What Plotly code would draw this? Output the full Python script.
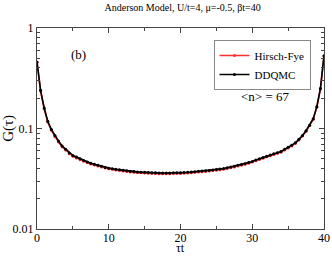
import plotly.graph_objects as go

tau = [i * 0.5 for i in range(81)]

g_ddqmc = [0.46, 0.24, 0.16, 0.118, 0.098, 0.085, 0.075, 0.067, 0.062, 0.057,
           0.054, 0.052, 0.050, 0.048, 0.0465, 0.045, 0.044, 0.043, 0.042, 0.041,
           0.0403, 0.0398, 0.0393, 0.0388, 0.0384, 0.0380, 0.0376, 0.0373, 0.0370, 0.0368,
           0.0366, 0.0364, 0.0363, 0.0362, 0.0361, 0.0361, 0.0361, 0.0361, 0.0362, 0.0362,
           0.0363, 0.0365, 0.0367, 0.0369, 0.0372, 0.0375, 0.0377, 0.0380, 0.0383, 0.0387,
           0.0390, 0.0395, 0.0400, 0.0407, 0.0415, 0.0422, 0.0430, 0.0438, 0.0447, 0.0458,
           0.0470, 0.0485, 0.0500, 0.0515, 0.0530, 0.0545, 0.0560, 0.0575, 0.0590, 0.0620,
           0.065, 0.068, 0.072, 0.078, 0.085, 0.095, 0.108, 0.125, 0.165, 0.25, 0.53]

g_hf = [0.455, 0.236, 0.157, 0.116, 0.096, 0.083, 0.0735, 0.066, 0.061, 0.056,
        0.053, 0.051, 0.049, 0.0472, 0.0458, 0.0443, 0.0433, 0.0423, 0.0413, 0.0404,
        0.0397, 0.0392, 0.0387, 0.0382, 0.0378, 0.0374, 0.0370, 0.0367, 0.0364, 0.0362,
        0.0360, 0.0358, 0.0357, 0.0356, 0.0355, 0.0355, 0.0355, 0.0355, 0.0356, 0.0356,
        0.0357, 0.0359, 0.0361, 0.0363, 0.0366, 0.0369, 0.0371, 0.0374, 0.0377, 0.0381,
        0.0384, 0.0389, 0.0394, 0.0401, 0.0408, 0.0415, 0.0423, 0.0431, 0.0440, 0.0451,
        0.0463, 0.0477, 0.0492, 0.0507, 0.0522, 0.0537, 0.0552, 0.0567, 0.0582, 0.0611,
        0.064, 0.067, 0.071, 0.077, 0.084, 0.094, 0.107, 0.123, 0.163, 0.247, 0.525]

x_ticks = [0, 10, 20, 30, 40]
y_ticks = [0.01, 0.1, 1]
y_tick_text = ["0.01", "0.1", "1"]
y_minor = [m * d for d in (0.01, 0.1) for m in range(2, 10)]

font = "Liberation Serif"

fig = go.Figure()
fig.add_trace(go.Scatter(x=tau, y=g_hf, name="Hirsch-Fye", mode="lines+markers",
                         line=dict(color="#ff3030", width=1.6),
                         marker=dict(color="#ff3030", size=3)))
fig.add_trace(go.Scatter(x=tau, y=g_ddqmc, name="DDQMC", mode="lines+markers",
                         line=dict(color="black", width=1.6),
                         marker=dict(color="black", size=3)))

axis_common = dict(showline=True, linecolor="#444", linewidth=1, mirror="allticks",
                   ticks="inside", ticklen=5, tickcolor="#444", showgrid=False,
                   zeroline=False, automargin=False,
                   tickfont=dict(family=font, size=12, color="black"))

fig.update_layout(
    width=332, height=256,
    margin=dict(l=37, r=8, t=28, b=27),
    plot_bgcolor="white", paper_bgcolor="white",
    title=dict(text="Anderson Model, U/t=4, μ=-0.5, βt=40", x=0.55, xanchor="center",
               y=0.985, yanchor="top", font=dict(family=font, size=10, color="black")),
    xaxis=dict(range=[0, 40], tickvals=x_ticks, ticklabelstandoff=-2,
               minor=dict(ticks="inside", ticklen=3, tickcolor="#444", dtick=5, tick0=0),
               **axis_common),
    yaxis=dict(type="log", range=[-2, 0], tickvals=y_ticks, ticktext=y_tick_text,
               minor=dict(ticks="inside", ticklen=3, tickcolor="#444", tickvals=y_minor),
               **axis_common),
    legend=dict(x=0.615, y=0.94, xanchor="left", yanchor="top",
                bgcolor="white", bordercolor="#888", borderwidth=1,
                font=dict(family=font, size=11, color="black"),
                itemwidth=30, tracegroupgap=0),
    showlegend=True,
    annotations=[
        dict(text="(b)", x=0.145, y=0.87, xref="paper", yref="paper", showarrow=False,
             xanchor="center", yanchor="middle",
             font=dict(family=font, size=13, color="black")),
        dict(text="&lt;n&gt; = 67", x=0.795, y=0.66, xref="paper", yref="paper", showarrow=False,
             xanchor="center", yanchor="middle",
             font=dict(family=font, size=13, color="black")),
        dict(text="G(τ)", x=-0.1, y=0.5, xref="paper", yref="paper", showarrow=False,
             textangle=-90, xanchor="center", yanchor="middle",
             font=dict(family=font, size=15, color="black")),
        dict(text="τt", x=0.5, y=-0.097, xref="paper", yref="paper", showarrow=False,
             xanchor="center", yanchor="middle",
             font=dict(family=font, size=12, color="black")),
    ],
)

fig.write_html("out.html", config={"displayModeBar": False},
               post_script="document.body.style.margin='0';")
